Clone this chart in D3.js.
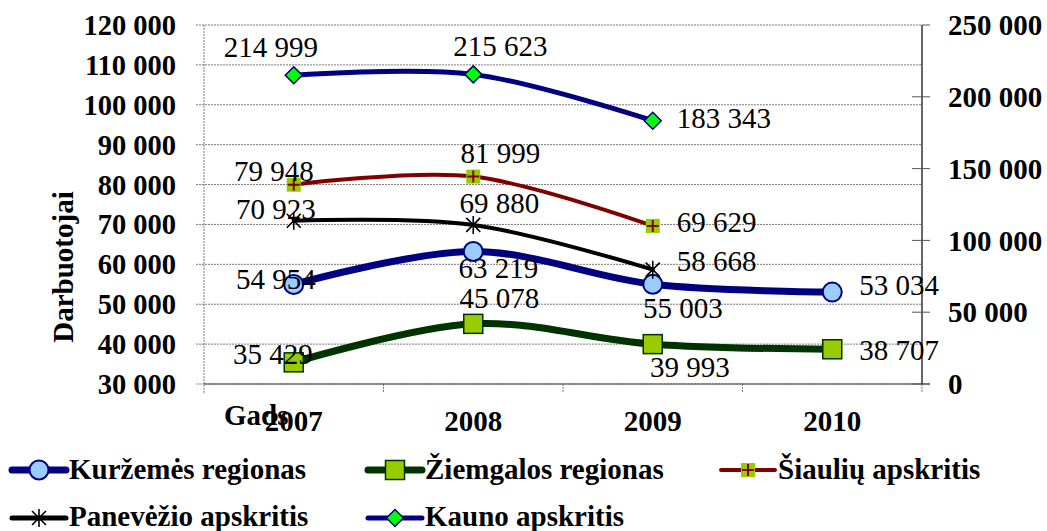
<!DOCTYPE html>
<html><head><meta charset="utf-8">
<script src="https://cdn.jsdelivr.net/npm/d3@7"></script>
<style>body{margin:0;background:#fff}svg{display:block}</style>
</head><body><svg id="c" width="1047" height="531"></svg>
<script>
// ---- data ----
const years = ["2007","2008","2009","2010"];
const kurzemes   = [54954, 63219, 55003, 53034];
const ziemgalos  = [35429, 45078, 39993, 38707];
const siauliu    = [79948, 81999, 69629, null];
const panevezio  = [70923, 69880, 58668, null];
const kauno      = [214999, 215623, 183343, null];
const seriesNames = ["Kuržemės regionas","Žiemgalos regionas","Šiaulių apskritis","Panevėžio apskritis","Kauno apskritis"];
const leftTicks  = [30000,40000,50000,60000,70000,80000,90000,100000,110000,120000];
const rightTicks = [0,50000,100000,150000,200000,250000];
const yTitle = "Darbuotojai";
const xTitle = "Gads";

// ---- layout / style ----
const L=204, R=922, T=25, B=384;
const FONT = "'Liberation Serif','DejaVu Serif',serif";
const svg = d3.select("#c");
const fmt = d3.formatLocale({decimal:",",thousands:" ",grouping:[3],currency:["",""]}).format(",d");

const x = d3.scaleBand().domain(years).range([L,R]).padding(0);
const cx = d => x(d)+x.bandwidth()/2;
const yL = d3.scaleLinear().domain([30000,120000]).range([B,T]);
const yR = d3.scaleLinear().domain([0,250000]).range([B,T]);

// gridlines
svg.append("g").selectAll("line").data(leftTicks).join("line")
  .attr("x1",L-8).attr("x2",R).attr("y1",d=>yL(d)).attr("y2",d=>yL(d))
  .attr("stroke","#7a7a7a").attr("stroke-width",1).attr("stroke-dasharray","2,1");
// left axis line (dotted)
svg.append("line").attr("x1",L).attr("x2",L).attr("y1",T).attr("y2",B+9)
  .attr("stroke","#7a7a7a").attr("stroke-dasharray","2,1");
// category ticks
svg.append("g").selectAll("line").data(years.slice(1).concat(["end"])).join("line")
  .attr("x1",d=>d==="end"?R:x(d)).attr("x2",d=>d==="end"?R:x(d))
  .attr("y1",B).attr("y2",B+9).attr("stroke","#7a7a7a").attr("stroke-dasharray","2,1");
// bottom axis line
svg.append("line").attr("x1",L).attr("x2",R+8).attr("y1",B).attr("y2",B).attr("stroke","#444").attr("stroke-width",1);
// right axis
svg.append("line").attr("x1",R).attr("x2",R).attr("y1",T).attr("y2",B).attr("stroke","#000").attr("stroke-width",1.2);
svg.append("g").selectAll("line").data(rightTicks).join("line")
  .attr("x1",d=>d===250000?R:R-10).attr("x2",R+8).attr("y1",d=>yR(d)).attr("y2",d=>yR(d))
  .attr("stroke","#555").attr("stroke-width",1);

// axis labels
svg.append("g").selectAll("text").data(leftTicks).join("text")
  .attr("x",176).attr("y",d=>yL(d)).attr("dy","0.35em").attr("text-anchor","end")
  .attr("font-family",FONT).attr("font-weight","bold").attr("font-size",28.5).text(d=>fmt(d));
svg.append("g").selectAll("text").data(rightTicks).join("text")
  .attr("x",948).attr("y",d=>yR(d)).attr("dy","0.35em").attr("text-anchor","start")
  .attr("font-family",FONT).attr("font-weight","bold").attr("font-size",29).text(d=>fmt(d));
svg.append("text").attr("x",224).attr("y",425).attr("font-family",FONT).attr("font-weight","bold")
  .attr("font-size",29).text(xTitle);
svg.append("g").selectAll("text").data(years).join("text")
  .attr("x",d=>cx(d)).attr("y",431).attr("text-anchor","middle")
  .attr("font-family",FONT).attr("font-weight","bold").attr("font-size",29).text(d=>d);
svg.append("text").attr("transform","translate(63,267) rotate(-90)").attr("text-anchor","middle")
  .attr("dominant-baseline","central").attr("font-family",FONT).attr("font-weight","bold")
  .attr("font-size",29).text(yTitle);

// series definitions
const seriesVals = [kurzemes, ziemgalos, siauliu, panevezio, kauno];
const seriesAxis = [yL, yL, yL, yL, yR];
const seriesStyle = [
  {color:"#000080", w:7, marker:"circle"},
  {color:"#003300", w:7, marker:"bigsquare"},
  {color:"#800000", w:4, marker:"plussquare"},
  {color:"#000000", w:4, marker:"star"},
  {color:"#000080", w:5, marker:"diamond"}
];
// label placement [dx, dy, anchor] per point (style)
const labelPlace = [
  [[-18,5,"middle"],[25,27,"middle"],[30,34,"middle"],[27,3,"start"]],
  [[-21,2,"middle"],[26,-16,"middle"],[37,33,"middle"],[27,11,"start"]],
  [[-20,-4,"middle"],[27,-14,"middle"],[24,6,"start"]],
  [[-18,-2,"middle"],[26,-12,"middle"],[24,1,"start"]],
  [[-23,-18,"middle"],[27,-18,"middle"],[24,7,"start"]]
];

function drawMarker(g, type, color){
  if(type==="circle"){
    g.append("circle").attr("r",9.5).attr("fill","#99ccff").attr("stroke","#000080").attr("stroke-width",2);
  } else if(type==="bigsquare"){
    g.append("rect").attr("x",-9.5).attr("y",-9.5).attr("width",19).attr("height",19)
      .attr("fill","#99cc00").attr("stroke","#003300").attr("stroke-width",1.5);
  } else if(type==="plussquare"){
    g.append("rect").attr("x",-7).attr("y",-7).attr("width",14).attr("height",14).attr("fill","#99cc00");
    g.append("path").attr("d","M-6,0H6M0,-6V6").attr("stroke","#800000").attr("stroke-width",2);
  } else if(type==="star"){
    g.append("path").attr("d","M-7,-7L7,7M-7,7L7,-7M0,-9V9").attr("stroke","#000").attr("stroke-width",1.6);
  } else if(type==="diamond"){
    g.append("path").attr("d","M0,-8.5L8.5,0L0,8.5L-8.5,0Z").attr("fill","#00ff00")
      .attr("stroke","#000080").attr("stroke-width",1.5);
  }
}

const plot = svg.append("g");
seriesVals.forEach((vals,i)=>{
  const y = seriesAxis[i], st = seriesStyle[i];
  const pts = years.map((yr,j)=>({yr, v:vals[j]})).filter(p=>p.v!=null);
  const line = d3.line().x(p=>cx(p.yr)).y(p=>y(p.v)).curve(d3.curveCardinal.tension(0));
  plot.append("path").attr("d",line(pts)).attr("fill","none").attr("stroke",st.color)
    .attr("stroke-width",st.w).attr("stroke-linecap","round").attr("stroke-linejoin","round");
  pts.forEach(p=>{
    const g = plot.append("g").attr("transform",`translate(${cx(p.yr)},${y(p.v)})`);
    drawMarker(g, st.marker, st.color);
  });
});
// data labels
const labels = svg.append("g");
seriesVals.forEach((vals,i)=>{
  const y = seriesAxis[i];
  vals.forEach((v,j)=>{
    if(v==null) return;
    const [dx,dy,anc] = labelPlace[i][j];
    labels.append("text").attr("x",cx(years[j])+dx).attr("y",y(v)+dy).attr("text-anchor",anc)
      .attr("font-family",FONT).attr("font-size",29).attr("fill","#000").text(fmt(v));
  });
});

// legend
const legendPos = [[10,470,479],[366,470,479],[719,470,479],[10,518,526],[366,518,526]];
const legendW = [7,7,4,5,5];
seriesNames.forEach((name,i)=>{
  const [lx,ly,tb] = legendPos[i], st = seriesStyle[i];
  const g = svg.append("g").attr("transform",`translate(${lx},${ly})`);
  g.append("line").attr("x1",2).attr("x2",56).attr("stroke",st.color).attr("stroke-width",legendW[i]).attr("stroke-linecap","round");
  const m = g.append("g").attr("transform","translate(29,0)");
  drawMarker(m, st.marker, st.color);
  svg.append("text").attr("x",lx+59).attr("y",tb).attr("font-family",FONT)
    .attr("font-weight","bold").attr("font-size",29).text(name);
});
</script></body></html>
